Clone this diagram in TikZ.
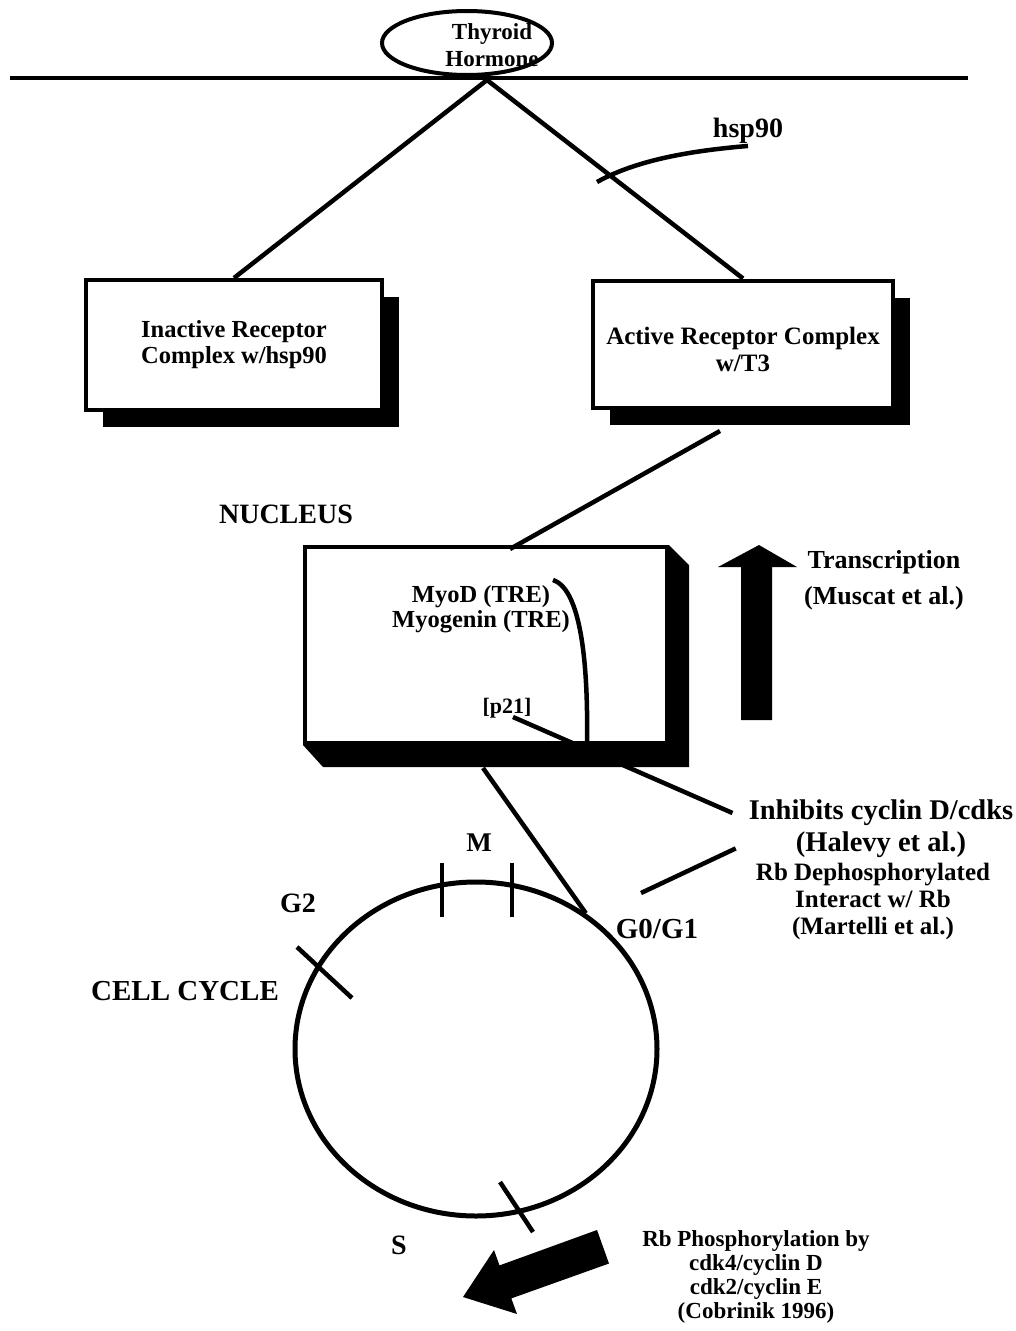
\documentclass[tikz,border=0pt]{standalone}
\usepackage{fontspec}
\setmainfont{Liberation Serif}
\usetikzlibrary{shapes.geometric,shadows,positioning}
\newcommand{\fs}[2]{\fontsize{#1}{#2}\selectfont}

\begin{document}
\begin{tikzpicture}[x=1pt,y=-1pt,line width=4.5pt,
  txt/.style={font=\bfseries\fs{24.5}{26},align=center,inner sep=0pt},
  boxed/.style={draw,fill=white,line width=4pt,
    drop shadow={fill=black,opacity=1,shadow xshift=17pt,shadow yshift=-17pt}}]
   \useasboundingbox (0,0) rectangle (1015,1331);

   % membrane and hormone
   \draw (10,78) -- (968,78);
   \node[draw,fill=white,ellipse,line width=4pt,minimum width=170,minimum height=64] (horm) at (467,43) {};
   \node[txt,font=\bfseries\fs{23}{27}] (hormtxt) at (492,45) {Thyroid\\Hormone};
   \coordinate (apex) at (487,80);

   % receptor complexes
   \node[boxed,minimum width=296,minimum height=130] (inact) at (234,345) {};
   \node[txt] (inacttxt) at (inact) {Inactive Receptor\\Complex w/hsp90};
   \node[boxed,minimum width=300,minimum height=127] (act) at (743,344) {};
   \node[txt,font=\bfseries\fs{25}{27}] (acttxt) at (743,349) {Active Receptor Complex\\w/T3};
   \draw (apex) -- (inact.north);
   \draw (apex) -- (act.north);

   \node[txt,font=\bfseries\fs{28}{28}] (hsp) at (748,131) {hsp90};
   \coordinate (hspx) at (597,182);
   \draw (hspx) .. controls (640,158) and (700,150) .. (hsp.south);

   % nucleus
   \node[txt,font=\bfseries\fs{28}{28}] (nuclbl) at (286,514) {NUCLEUS};
   \node[draw,fill=white,line width=4pt,minimum width=362,minimum height=196] (nuc) at (486,645) {};
   \fill (nuc.north east) -- ++(20,20) -- ([shift={(20,22)}]nuc.south east)
     -- ([shift={(20,22)}]nuc.south west) -- (nuc.south west) -- (nuc.south east) -- cycle;
   \coordinate (actout) at (720,431);
   \coordinate (nucin) at (510,549);
   \draw (actout) -- (nucin);

   \node[txt,font=\bfseries\fs{24.5}{25}] (myod) at (481,609) {MyoD (TRE)\\Myogenin (TRE)};
   \draw (553,580) .. controls (584,590) and (588,680) .. (587,743);
   \node[txt,font=\bfseries\fs{22}{24}] (p21) at (507,708) {[p21]};

   % transcription
   \fill (741,720) -- (741,567) -- (718,567) -- (759,545) -- (797,567) -- (772,567) -- (772,720) -- cycle;
   \node[txt,font=\bfseries\fs{26}{36}] (trans) at (884,580) {Transcription\\(Muscat et al.)};

   \node[txt,font=\bfseries\fs{28.5}{32}] (inh) at (881,829) {Inhibits cyclin D/cdks\\(Halevy et al.)};
   \draw ([shift={(6,9)}]p21.center) -- ([shift={(-14,-16)}]inh.west);

   % cell cycle
   \node[draw,ellipse,line width=5pt,minimum width=362,minimum height=334] (cyc) at (476,1049) {};
   \coordinate (nucout) at (483,768);
   \draw (nucout) -- (cyc.51);
   \draw (442,863) -- (442,917);
   \draw (512,863) -- (512,917);
   \draw (297,947) -- (352,998);
   \draw (500,1182) -- (533,1232);

   \node[txt,font=\bfseries\fs{27}{28}] (mlbl) at (479,843) {M};
   \node[txt,font=\bfseries\fs{28}{28}] (g2lbl) at (298,903) {G2};
   \node[txt,font=\bfseries\fs{29}{28}] (g1lbl) at (657,929) {G0/G1};
   \node[txt,font=\bfseries\fs{29}{28}] (cclbl) at (185,991) {CELL CYCLE};
   \node[txt,font=\bfseries\fs{28}{28}] (slbl) at (399,1245) {S};

   \node[txt,font=\bfseries\fs{25}{27}] (rbde) at (873,901) {Rb Dephosphorylated\\Interact w/ Rb\\(Martelli et al.)};
   \coordinate (rbx) at (641,893);
   \draw (rbx) -- ([shift={(-18,-12)}]rbde.north west);

   % phosphorylation
   \fill (597,1230) -- (499.5,1265.4) -- (494,1250) -- (463,1297) -- (517,1314)
     -- (511.3,1298.4) -- (609,1263.5) -- cycle;
   \node[txt,font=\bfseries\fs{23}{24}] (rbph) at (756,1277) {Rb Phosphorylation by\\cdk4/cyclin D\\cdk2/cyclin E\\(Cobrinik 1996)};
  \end{tikzpicture}
\end{document}
